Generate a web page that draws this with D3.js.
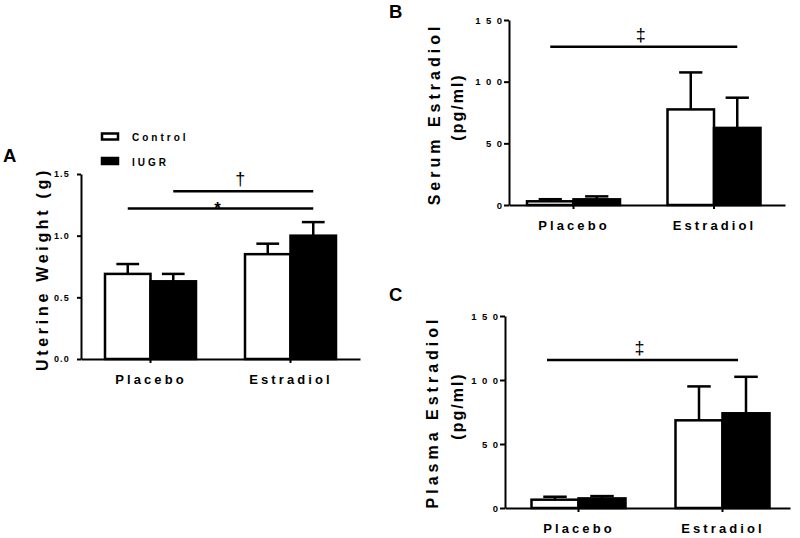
<!DOCTYPE html>
<html>
<head>
<meta charset="utf-8">
<script src="https://cdn.jsdelivr.net/npm/d3@7"></script>
<style>
  html, body { margin: 0; padding: 0; background: #fff; }
  svg { display: block; }
  text { font-family: "Liberation Sans", Arial, Helvetica, sans-serif; font-weight: bold; fill: #000; }
</style>
</head>
<body>
<svg id="chart" width="800" height="538"></svg>
<script>
// ---------------- data ----------------
const groups = ["Placebo", "Estradiol"];
const seriesNames = ["Control", "IUGR"];

const uterineControl    = [0.69, 0.85];
const uterineControlErr = [0.08, 0.085];
const uterineIUGR       = [0.63, 1.00];
const uterineIUGRErr    = [0.06, 0.11];

const serumControl    = [3.0, 77.5];
const serumControlErr = [1.7, 30.0];
const serumIUGR       = [4.6, 62.5];
const serumIUGRErr    = [2.4, 24.5];

const plasmaControl    = [6.5, 68.5];
const plasmaControlErr = [2.3, 26.5];
const plasmaIUGR       = [7.5, 74.0];
const plasmaIUGRErr    = [1.8, 28.5];

const ticksUterine = [0, 0.5, 1.0, 1.5];
const ticksEstradiol = [0, 50, 100, 150];

// significance bars: label, bar it starts over, bar it ends over, height in data units
const sigUterine = [
  {label: "*", from: ["Placebo", "Control"], to: ["Estradiol", "IUGR"], y: 1.22},
  {label: "\u2020", from: ["Placebo", "IUGR"], to: ["Estradiol", "IUGR"], y: 1.36}
];
const sigSerum  = [{label: "\u2021", from: ["Placebo", "Control"], to: ["Estradiol", "IUGR"], y: 128.4}];
const sigPlasma = [{label: "\u2021", from: ["Placebo", "Control"], to: ["Estradiol", "IUGR"], y: 115.6}];

// ---------------- drawing ----------------
const svg = d3.select("#chart");
const fills = {Control: "#fff", IUGR: "#000"};

function bandScale(left, right, c0, step, bw) {
  const pi = 1 - bw / step;
  const width = right - left;
  const po = (width / step - (groups.length - pi)) / 2;
  const remaining = width - step * (groups.length - pi);
  const align = remaining > 0 ? (c0 - bw / 2 - left) / remaining : 0.5;
  return d3.scaleBand().domain(groups).range([left, right])
    .paddingInner(pi).paddingOuter(Math.max(0, po)).align(Math.min(1, Math.max(0, align)));
}

function panel(cfg) {
  const g = svg.append("g");
  const x = bandScale(cfg.left, cfg.right, cfg.c0, cfg.step, cfg.bw);
  const x1 = d3.scaleBand().domain(seriesNames).range([0, x.bandwidth()]);
  const y = d3.scaleLinear().domain(cfg.domain).range([cfg.bottom, cfg.top]);

  const rows = [];
  groups.forEach((grp, i) => {
    seriesNames.forEach(s => {
      rows.push({grp, s, v: cfg.mean[s][i], e: cfg.err[s][i]});
    });
  });
  const cx = d => x(d.grp) + x1(d.s) + x1.bandwidth() / 2;

  // bars
  g.selectAll("rect.bar").data(rows).join("rect")
    .attr("class", "bar")
    .attr("x", d => x(d.grp) + x1(d.s))
    .attr("width", x1.bandwidth())
    .attr("y", d => y(d.v))
    .attr("height", d => y(0) - y(d.v))
    .attr("fill", d => fills[d.s])
    .attr("stroke", "#000")
    .attr("stroke-width", 2.5);

  // error bars (upper only)
  const capW = x1.bandwidth() * 0.5;
  const eb = g.selectAll("g.err").data(rows).join("g").attr("class", "err")
    .attr("stroke", "#000").attr("stroke-width", 2.5);
  eb.append("line")
    .attr("x1", cx).attr("x2", cx)
    .attr("y1", d => y(d.v))
    .attr("y2", d => y(d.v + d.e));
  eb.append("line")
    .attr("x1", d => cx(d) - capW / 2)
    .attr("x2", d => cx(d) + capW / 2)
    .attr("y1", d => y(d.v + d.e))
    .attr("y2", d => y(d.v + d.e));

  // axes
  const yAxis = g.append("g").attr("transform", `translate(${cfg.left},0)`)
    .call(d3.axisLeft(y).tickValues(cfg.ticks).tickFormat(cfg.fmt)
      .tickSize(cfg.yTickSize).tickSizeOuter(0).tickPadding(cfg.yTickPad));
  yAxis.selectAll("text").style("font-size", cfg.yTickFont + "px")
    .style("letter-spacing", cfg.yTickLs + "px").attr("fill", "#000");

  const xAxis = g.append("g").attr("transform", `translate(0,${cfg.bottom})`)
    .call(d3.axisBottom(x).tickSize(4).tickSizeOuter(0).tickPadding(12));
  xAxis.selectAll("text").style("font-size", "13px").style("letter-spacing", "3.1px")
    .attr("fill", "#000").attr("dx", "0.5px");

  [yAxis, xAxis].forEach(a => {
    a.select(".domain").attr("stroke", "#000").attr("stroke-width", 2);
    a.selectAll(".tick line").attr("stroke", "#000").attr("stroke-width", 2);
  });

  // y axis title (one or two lines)
  cfg.title.forEach((t, k) => {
    g.append("text")
      .attr("transform", `translate(${cfg.titleX[k]},${cfg.titleY[k]}) rotate(-90)`)
      .attr("text-anchor", "middle")
      .style("font-size", "16px")
      .style("letter-spacing", cfg.titleLs[k] + "px")
      .text(t);
  });

  // significance lines
  cfg.sig.forEach(sg => {
    const xa = x(sg.from[0]) + x1(sg.from[1]) + x1.bandwidth() / 2 + cfg.sigDx;
    const xb = x(sg.to[0]) + x1(sg.to[1]) + x1.bandwidth() / 2 + cfg.sigDx;
    g.append("line").attr("x1", xa).attr("x2", xb)
      .attr("y1", y(sg.y)).attr("y2", y(sg.y))
      .attr("stroke", "#000").attr("stroke-width", 2.5);
    const isStar = sg.label === "*";
    g.append("text")
      .attr("x", (xa + xb) / 2 - 3)
      .attr("y", y(sg.y) + (isStar ? 5 : -6))
      .attr("text-anchor", "middle")
      .style("font-weight", isStar ? "bold" : "normal")
      .style("font-size", isStar ? "17px" : "18px")
      .text(sg.label);
  });

  // panel letter
  g.append("text").attr("x", cfg.letterX).attr("y", cfg.letterY)
    .style("font-size", "18.5px").text(cfg.letter);
}

panel({
  letter: "A", letterX: 3, letterY: 161.5,
  left: 81, right: 360, top: 174, bottom: 359,
  c0: 150.5, step: 140, bw: 91,
  domain: [0, 1.5], ticks: ticksUterine, fmt: d3.format(".1f"),
  yTickSize: 4, yTickPad: 7, yTickFont: 9, yTickLs: 1.2,
  mean: {Control: uterineControl, IUGR: uterineIUGR},
  err: {Control: uterineControlErr, IUGR: uterineIUGRErr},
  title: ["Uterine Weight (g)"], titleX: [48], titleY: [269], titleLs: [3.7],
  sig: sigUterine, sigDx: 0
});

panel({
  letter: "B", letterX: 389, letterY: 18.3,
  left: 509, right: 785, top: 20, bottom: 205,
  c0: 573.5, step: 140.5, bw: 93,
  domain: [0, 150], ticks: ticksEstradiol, fmt: d3.format("d"),
  yTickSize: 5, yTickPad: -3.5, yTickFont: 9.5, yTickLs: 5.5,
  mean: {Control: serumControl, IUGR: serumIUGR},
  err: {Control: serumControlErr, IUGR: serumIUGRErr},
  title: ["Serum Estradiol", "(pg/ml)"], titleX: [440, 463], titleY: [114, 107], titleLs: [4, 2],
  sig: sigSerum, sigDx: 0
});

panel({
  letter: "C", letterX: 389, letterY: 300.5,
  left: 505, right: 790, top: 316, bottom: 508,
  c0: 578.5, step: 144, bw: 94,
  domain: [0, 150], ticks: ticksEstradiol, fmt: d3.format("d"),
  yTickSize: 5, yTickPad: -3.5, yTickFont: 9.5, yTickLs: 5.5,
  mean: {Control: plasmaControl, IUGR: plasmaIUGR},
  err: {Control: plasmaControlErr, IUGR: plasmaIUGRErr},
  title: ["Plasma Estradiol", "(pg/ml)"], titleX: [438, 463], titleY: [412, 406], titleLs: [4, 2],
  sig: sigPlasma, sigDx: -8
});

// legend
const legend = svg.append("g");
seriesNames.forEach((s, i) => {
  legend.append("rect")
    .attr("x", 102).attr("y", 133.5 + i * 24.5)
    .attr("width", 16).attr("height", 6)
    .attr("fill", fills[s]).attr("stroke", "#000").attr("stroke-width", 2.5);
  legend.append("text")
    .attr("x", 132).attr("y", 141 + i * 24.5)
    .style("font-size", "10px").style("letter-spacing", "3px")
    .text(s);
});
</script>
</body>
</html>
